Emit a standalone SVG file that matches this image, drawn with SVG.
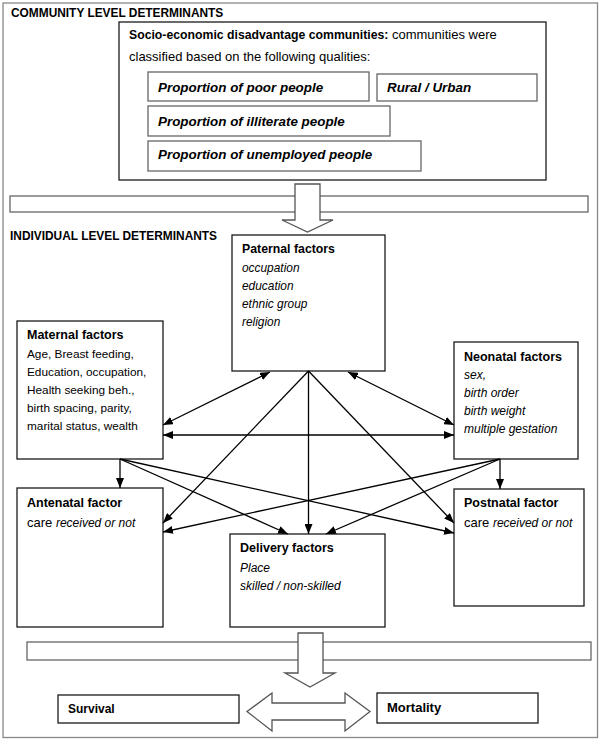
<svg xmlns="http://www.w3.org/2000/svg" width="600" height="741" viewBox="0 0 600 741">
<defs>
<style>
text{font-family:"Liberation Sans",Arial,sans-serif;fill:#000}
.ttl{font-weight:bold;font-size:11.9px}
.hd{font-weight:bold;font-size:12.5px}
.bd{font-size:11.8px}
.it{font-style:italic;font-size:12px}
.sub{font-weight:bold;font-style:italic;font-size:13.4px}
.box{fill:#fff;stroke:#1a1a1a;stroke-width:1.3}
.gbox{fill:#fff;stroke:#666;stroke-width:1.3}
.big{fill:#fff;stroke:#555;stroke-width:1.3;stroke-linejoin:miter}
.con{fill:none;stroke:#000;stroke-width:1.3}
</style>
<marker id="ah" viewBox="0 0 10 8" refX="10" refY="4" markerWidth="10" markerHeight="8" markerUnits="userSpaceOnUse" orient="auto-start-reverse">
<path d="M0,0 L10,4 L0,8 z" fill="#000"/>
</marker>
</defs>
<rect x="3" y="3" width="594.5" height="734.5" fill="#fff" stroke="#888" stroke-width="1.3"/>
<text class="ttl" x="11" y="17">COMMUNITY LEVEL DETERMINANTS</text>
<g id="community">
<rect class="box" x="119" y="22" width="427" height="158"/>
<text x="129" y="39" style="font-size:13px"><tspan style="font-weight:bold;font-size:12.25px">Socio-economic disadvantage communities:</tspan> communities were</text>
<text x="129" y="61" style="font-size:13px">classified based on the following qualities:</text>
<g id="poor"><rect class="gbox" x="148" y="72" width="221" height="29"/><text class="sub" x="158" y="92">Proportion of poor people</text></g>
<g id="rural"><rect class="gbox" x="377" y="74" width="160" height="27"/><text class="sub" x="387" y="92">Rural / Urban</text></g>
<g id="illiterate"><rect class="gbox" x="148" y="106" width="242" height="30"/><text class="sub" x="158" y="126">Proportion of illiterate people</text></g>
<g id="unemployed"><rect class="gbox" x="148" y="141" width="273" height="30"/><text class="sub" x="158" y="159">Proportion of unemployed people</text></g>
</g>
<g id="band-top"><rect class="gbox" x="10" y="196" width="578" height="16"/></g>
<g id="arrow-top"><polygon class="big" points="295,184 320,184 320,220 333,220 307.5,232 282,220 295,220"/></g>
<text class="ttl" x="10" y="240">INDIVIDUAL LEVEL DETERMINANTS</text>
<g id="paternal">
<rect class="box" x="232" y="235" width="153" height="136"/>
<text class="hd" x="242" y="253" style="font-size:12.3px">Paternal factors</text>
<text class="it" x="242" y="272" style="font-size:11.9px">occupation</text>
<text class="it" x="242" y="290" style="font-size:11.9px">education</text>
<text class="it" x="242" y="308" style="font-size:11.9px">ethnic group</text>
<text class="it" x="242" y="326" style="font-size:11.9px">religion</text>
</g>
<g id="maternal">
<rect class="box" x="17" y="321" width="146" height="138"/>
<text class="hd" x="27" y="339">Maternal factors</text>
<text class="bd" x="27" y="358">Age, Breast feeding,</text>
<text class="bd" x="27" y="376">Education, occupation,</text>
<text class="bd" x="27" y="394">Health seeking beh.,</text>
<text class="bd" x="27" y="412">birth spacing, parity,</text>
<text class="bd" x="27" y="430">marital status, wealth</text>
</g>
<g id="neonatal">
<rect class="box" x="454" y="342" width="124" height="117"/>
<text class="hd" x="464" y="361">Neonatal factors</text>
<text class="it" x="464" y="379">sex,</text>
<text class="it" x="464" y="397">birth order</text>
<text class="it" x="464" y="415">birth weight</text>
<text class="it" x="464" y="433">multiple gestation</text>
</g>
<g id="antenatal">
<rect class="box" x="17" y="488" width="146" height="139"/>
<text class="hd" x="27" y="507">Antenatal factor</text>
<text x="27" y="527" style="font-size:13px">care <tspan class="it">received or not</tspan></text>
</g>
<g id="delivery">
<rect class="box" x="230" y="534" width="155" height="93"/>
<text class="hd" x="240" y="552">Delivery factors</text>
<text class="it" x="240" y="572">Place</text>
<text class="it" x="240" y="590">skilled / non-skilled</text>
</g>
<g id="postnatal">
<rect class="box" x="454" y="489" width="130" height="117"/>
<text class="hd" x="464" y="507">Postnatal factor</text>
<text x="464" y="527" style="font-size:13px">care <tspan class="it">received or not</tspan></text>
</g>
<g id="connectors">
<path class="con" d="M163,425 L270,372" marker-start="url(#ah)" marker-end="url(#ah)"/>
<path class="con" d="M163,435 L454,435" marker-start="url(#ah)" marker-end="url(#ah)"/>
<path class="con" d="M348,372 L454,425" marker-start="url(#ah)" marker-end="url(#ah)"/>
<path class="con" d="M308.5,371 L163,523" marker-end="url(#ah)"/>
<path class="con" d="M308.5,371 L308.5,534" marker-end="url(#ah)"/>
<path class="con" d="M308.5,371 L454,523" marker-end="url(#ah)"/>
<path class="con" d="M120,459 L120,488" marker-end="url(#ah)"/>
<path class="con" d="M120,459 L288,534" marker-end="url(#ah)"/>
<path class="con" d="M120,459 L454,533" marker-end="url(#ah)"/>
<path class="con" d="M500,459 L500,489" marker-end="url(#ah)"/>
<path class="con" d="M500,459 L326,534" marker-end="url(#ah)"/>
<path class="con" d="M500,459 L163,532" marker-end="url(#ah)"/>
</g>
<g id="band-bottom"><rect class="gbox" x="27" y="642" width="564" height="18"/></g>
<g id="arrow-bottom"><polygon class="big" points="298,633 323,633 323,673 335,673 310,687 285,673 298,673"/></g>
<g id="double-arrow"><polygon class="big" points="247,711.5 272,693 272,703 345,703 345,693 370,711.5 345,731 345,720 272,720 272,731"/></g>
<g id="survival">
<rect class="box" x="58" y="695" width="181" height="28"/>
<text class="hd" x="68" y="713" style="font-size:12px">Survival</text>
</g>
<g id="mortality">
<rect class="box" x="377" y="693" width="161" height="30"/>
<text class="hd" x="387" y="712" style="font-size:13px">Mortality</text>
</g>
</svg>
